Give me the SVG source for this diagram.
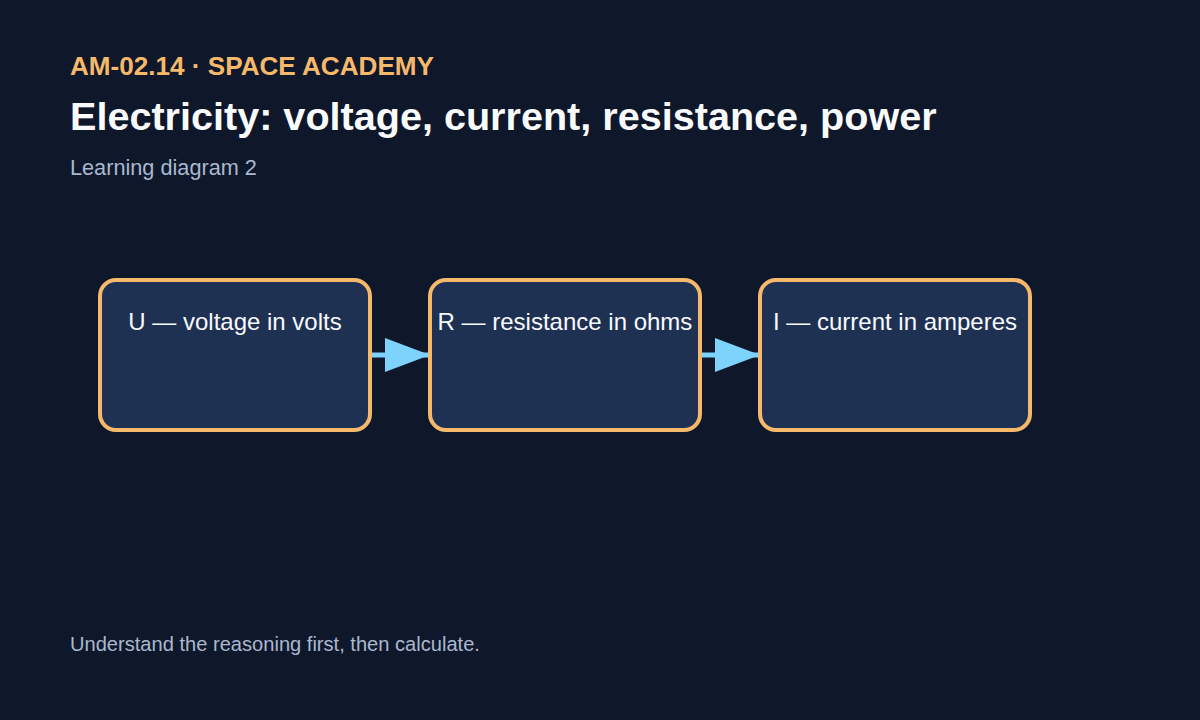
<svg xmlns="http://www.w3.org/2000/svg" width="1200" height="720" viewBox="0 0 1200 720">
<defs>
<style>
.bg{fill:#0f172a}
.kicker{font-family:"Liberation Sans",Arial,sans-serif;font-size:26.1px;font-weight:bold;fill:#f6b96b}
.title{font-family:"Liberation Sans",Arial,sans-serif;font-size:39.6px;font-weight:bold;fill:#f8fafc}
.sub{font-family:"Liberation Sans",Arial,sans-serif;font-size:21.7px;fill:#a9b8cf}
.foot{font-family:"Liberation Sans",Arial,sans-serif;font-size:20.1px;fill:#a9b8cf}
.box{fill:#1f3152;stroke:#f6b96b;stroke-width:4}
.label{font-family:"Liberation Sans",Arial,sans-serif;font-size:24px;fill:#f8fafc;text-anchor:middle}
.edge{stroke:#7dd3fc;stroke-width:5;fill:none}
</style>
<marker id="arrow" markerUnits="userSpaceOnUse" markerWidth="46" markerHeight="34" refX="45" refY="17" orient="auto" viewBox="0 0 46 34">
<polygon points="0,0 45,17 0,34" fill="#7dd3fc"/>
</marker>
</defs>
<rect class="bg" x="0" y="0" width="1200" height="720"/>
<text class="kicker" x="70" y="75">AM-02.14 · SPACE ACADEMY</text>
<text class="title" x="70" y="130">Electricity: voltage, current, resistance, power</text>
<text class="sub" x="70" y="175">Learning diagram 2</text>
<g id="connectors">
<line class="edge" x1="370" y1="355" x2="430" y2="355" marker-end="url(#arrow)"/>
<line class="edge" x1="700" y1="355" x2="760" y2="355" marker-end="url(#arrow)"/>
</g>
<g id="node-u">
<rect class="box" x="100" y="280" width="270" height="150" rx="16"/>
<text class="label" x="235" y="330">U — voltage in volts</text>
</g>
<g id="node-r">
<rect class="box" x="430" y="280" width="270" height="150" rx="16"/>
<text class="label" x="565" y="330">R — resistance in ohms</text>
</g>
<g id="node-i">
<rect class="box" x="760" y="280" width="270" height="150" rx="16"/>
<text class="label" x="895" y="330">I — current in amperes</text>
</g>
<text class="foot" x="70" y="651">Understand the reasoning first, then calculate.</text>
</svg>
